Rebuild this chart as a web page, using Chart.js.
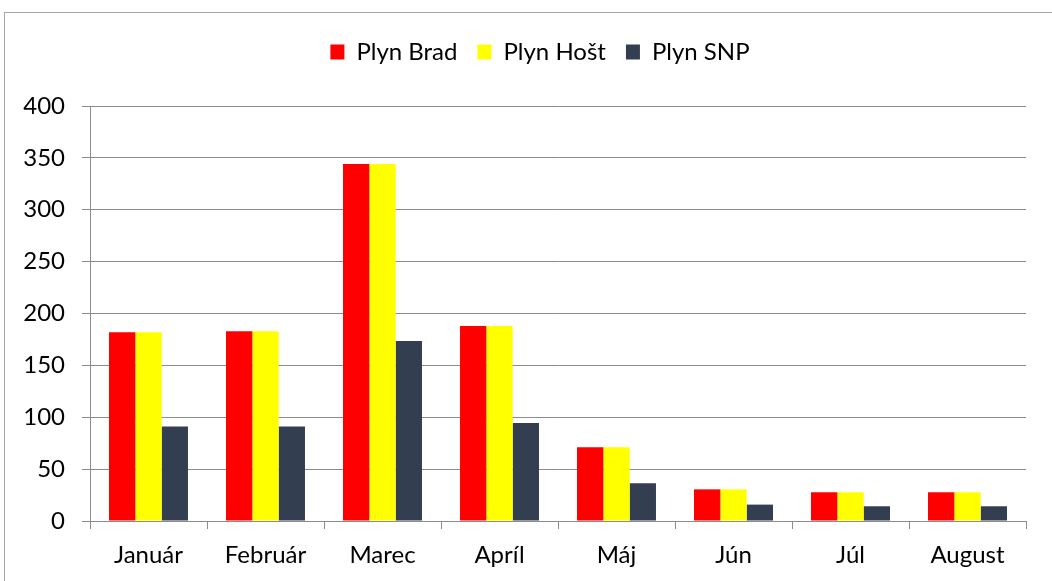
<!DOCTYPE html>
<html>
<head>
<meta charset="utf-8">
<script src="https://cdn.jsdelivr.net/npm/chart.js@4/dist/chart.umd.min.js"></script>
<style>
  html, body { margin: 0; padding: 0; background: #fff; overflow: hidden; }
  #wrap { width: 1052px; height: 581px; }
</style>
</head>
<body>
<div id="wrap"><canvas id="barChart" width="1052" height="581"></canvas></div>
<script>
var months = ['Január', 'Február', 'Marec', 'Apríl', 'Máj', 'Jún', 'Júl', 'August'];
var plynBrad = [182, 183, 344, 188, 71, 30.5, 27.7, 27.7];
var plynHost = [182, 183, 344, 188, 71, 30.5, 27.7, 27.7];
var plynSNP = [91, 91, 173.5, 94.5, 36.3, 15.8, 14.2, 14.2];
var yTicks = [0, 50, 100, 150, 200, 250, 300, 350, 400];

// outer frame like the office chart border, plus extra room under the legend
var framePlugin = {
    id: 'frame',
    beforeInit: function (chart) {
        if (chart.legend) {
            var origFit = chart.legend.fit;
            chart.legend.fit = function () {
                origFit.call(this);
                this.height += 32;
            };
        }
    },
    afterLayout: function (chart) {
        // legend is centred on the whole frame in the original
        if (chart.legend) {
            chart.legend.left += 27;
            chart.legend.right += 27;
        }
    },
    beforeDraw: function (chart) {
        var ctx = chart.ctx;
        ctx.save();
        ctx.fillStyle = '#fff';
        ctx.fillRect(0, 0, chart.width, chart.height);
        ctx.strokeStyle = '#a6a6a6';
        ctx.lineWidth = 1;
        ctx.strokeRect(4.5, 12.5, 1100, 700);
        ctx.restore();
    }
};

var gridColor = '#8c8c8c';
var font = { family: 'Lato, "Open Sans", sans-serif', size: 24 };

var ctx = document.getElementById('barChart');
var barGraph = new Chart(ctx, {
    type: 'bar',
    data: {
        labels: months,
        datasets: [
            { label: 'Plyn Brad', data: plynBrad, backgroundColor: '#ff0000' },
            { label: 'Plyn Hošt', data: plynHost, backgroundColor: '#ffff00' },
            { label: 'Plyn SNP', data: plynSNP, backgroundColor: '#333f50' }
        ]
    },
    options: {
        responsive: false,
        animation: false,
        layout: { padding: { top: 20, right: 26, left: 0, bottom: 0 } },
        datasets: { bar: { categoryPercentage: 0.675, barPercentage: 1.0 } },
        plugins: {
            tooltip: { enabled: false },
            legend: {
                position: 'top',
                labels: {
                    boxWidth: 14,
                    boxHeight: 15,
                    padding: 20,
                    color: '#000',
                    font: font
                }
            }
        },
        scales: {
            x: {
                grid: { drawOnChartArea: false, drawTicks: true, tickLength: 8, color: gridColor },
                border: { color: gridColor },
                ticks: { color: '#000', font: font, padding: 12, maxRotation: 0 },
                afterFit: function (s) { s.height = 60; }
            },
            y: {
                min: 0,
                max: 400,
                afterBuildTicks: function (s) {
                    s.ticks = yTicks.map(function (v) { return { value: v }; });
                },
                grid: { color: gridColor, tickLength: 8 },
                border: { color: gridColor },
                ticks: { color: '#000', font: font, padding: 17 },
                afterFit: function (s) { s.width = 90; }
            }
        }
    },
    plugins: [framePlugin]
});
</script>
</body>
</html>
